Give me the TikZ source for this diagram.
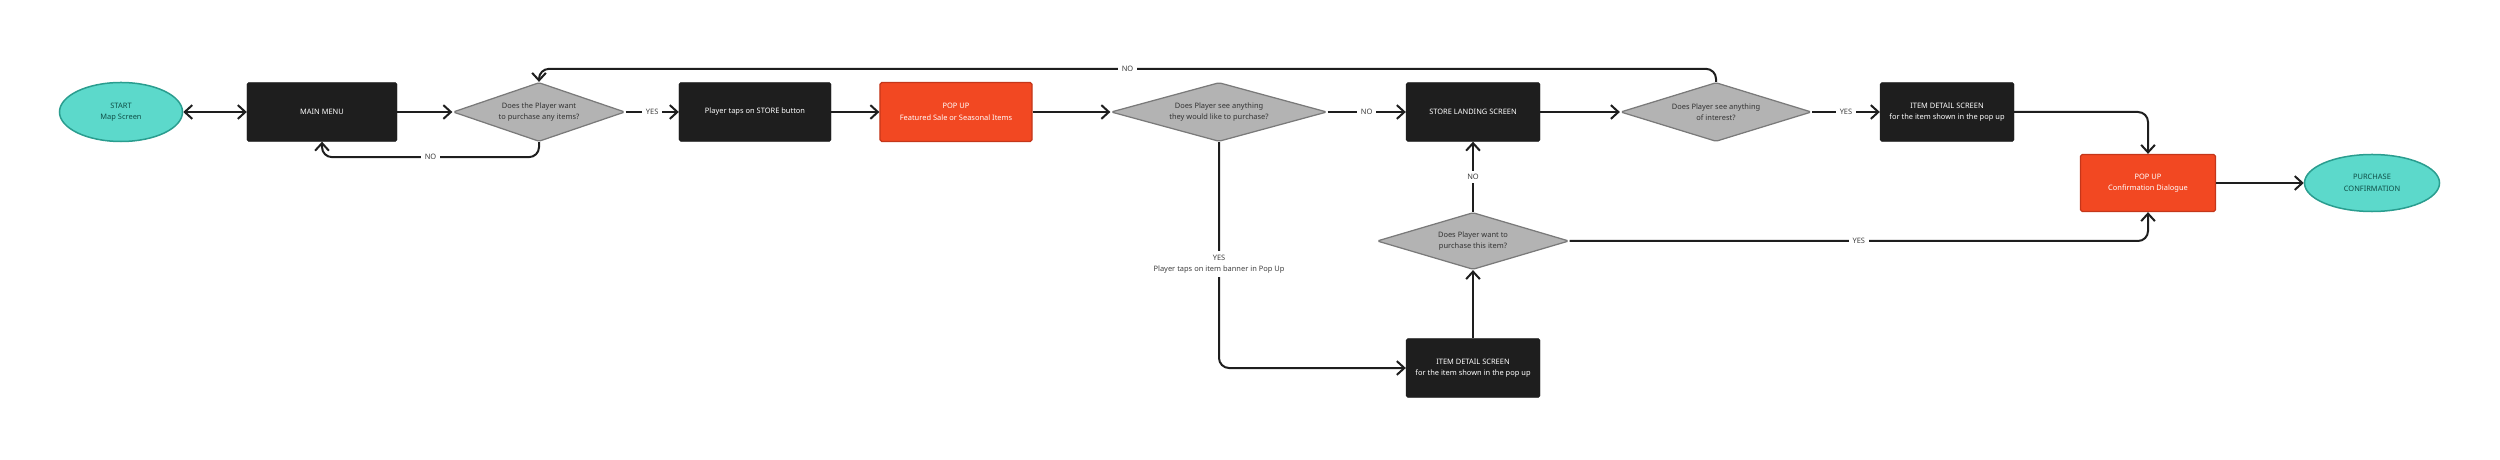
\documentclass[tikz,border=0pt]{standalone}
\usepackage{fontspec}
\setmainfont{Noto Sans}
\usepackage{tikz}
\usetikzlibrary{positioning}
\usetikzlibrary{shapes.geometric}
\usetikzlibrary{arrows.meta}
\usepackage{xcolor}

\definecolor{boxblack}{HTML}{1E1E1E}
\definecolor{popred}{HTML}{F24822}
\definecolor{popedge}{HTML}{C4361A}
\definecolor{tealfill}{HTML}{5CD9CB}
\definecolor{tealedge}{HTML}{2A9D8F}
\definecolor{tealtext}{HTML}{0F4F47}
\definecolor{askgray}{HTML}{B3B3B3}
\definecolor{askedge}{HTML}{7A7A7A}

\tikzset{
  screen/.style={rectangle, rounded corners=2pt, fill=boxblack, draw=boxblack, text=white,
    minimum width=5.36cm, minimum height=2.36cm, align=center},
  popup/.style={screen, fill=popred, draw=popedge, line width=0.05cm},
  terminal/.style={ellipse, fill=tealfill, draw=tealedge, line width=0.06cm, text=tealtext,
    minimum width=4.92cm, minimum height=2.36cm, align=center},
  question/.style={diamond, fill=askgray, draw=askedge, line width=0.05cm,
    rounded corners=2pt, minimum height=2.36cm, inner sep=0pt},
  asktext/.style={align=center, text=black!80},
  flow/.style={draw=boxblack, line width=0.08cm, ->, rounded corners=0.4cm},
  answer/.style={sharp corners, fill=white, text=black!75, inner sep=4pt, align=center}
}

\begin{document}
\begin{tikzpicture}[x=0.04cm, y=0.04cm, >={Straight Barb[length=0.3cm,width=0.55cm]},
    font=\fontsize{8.5}{13}\selectfont]
    \useasboundingbox (0,0) rectangle (2500,459);

    % Main row
    \node[terminal] (start) at (121,347) {START\\Map Screen};
    \node[screen, minimum width=6cm] (menu) at (322,347) {MAIN MENU};
    \node[question, minimum width=6.88cm,
        label={[asktext]center:{Does the Player want\\to purchase any items?}}] (askbuy) at (539,347) {};
    \node[screen, minimum width=6.08cm] (taps) at (755,347) {Player taps on STORE button};
    \node[popup, minimum width=6.08cm] (popup) at (956,347) {POP UP\\Featured Sale or Seasonal Items};
    \node[question, minimum width=8.64cm,
        label={[asktext]center:{Does Player see anything\\they would like to purchase?}}] (seeany) at (1219,347) {};
    \node[screen] (landing) at (1473,347) {STORE LANDING SCREEN};
    \node[question, minimum width=7.64cm,
        label={[asktext]center:{Does Player see anything\\of interest?}}] (interest) at (1716,347) {};
    \node[screen] (detail) at (1947,347) {ITEM DETAIL SCREEN\\for the item shown in the pop up};

    % Purchase end
    \node[popup, minimum width=5.4cm, minimum height=2.28cm] (confirm) at (2148,276) {POP UP\\Confirmation Dialogue};
    \node[terminal, minimum width=5.4cm, minimum height=2.28cm] (purchase) at (2372,276) {PURCHASE\\CONFIRMATION};

    % Lower branch
    \node[question, minimum width=7.68cm, minimum height=2.28cm,
        label={[asktext]center:{Does Player want to\\purchase this item?}}] (wantbuy) at (1473,218) {};
    \node[screen] (detailtwo) at (1473,91) {ITEM DETAIL SCREEN\\for the item shown in the pop up};

    % Connectors
    \draw[flow, <->] (start) -- (menu);
    \draw[flow] (menu) -- (askbuy);
    \draw[flow] (askbuy) -- node[answer] {YES} (taps);
    \draw[flow] (askbuy.south) -- ++(0,-15) -| node[answer, pos=0.25] {NO} (menu.south);
    \draw[flow] (taps) -- (popup);
    \draw[flow] (popup) -- (seeany);
    \draw[flow] (seeany) -- node[answer] {NO} (landing);
    \draw[flow] (landing) -- (interest);
    \draw[flow] (interest) -- node[answer] {YES} (detail);
    \draw[flow] (interest.north) -- ++(0,13) -| node[answer, pos=0.25] {NO} (askbuy.north);
    \draw[flow] (seeany.south) |- node[answer, pos=0.27] {YES\\Player taps on item banner in Pop Up} (detailtwo.west);
    \draw[flow] (detailtwo) -- (wantbuy);
    \draw[flow] (wantbuy) -- node[answer] {NO} (landing);
    \draw[flow] (wantbuy.east) -| node[answer, pos=0.25] {YES} (confirm.south);
    \draw[flow] (detail.east) -| (confirm.north);
    \draw[flow] (confirm) -- (purchase);
\end{tikzpicture}
\end{document}
